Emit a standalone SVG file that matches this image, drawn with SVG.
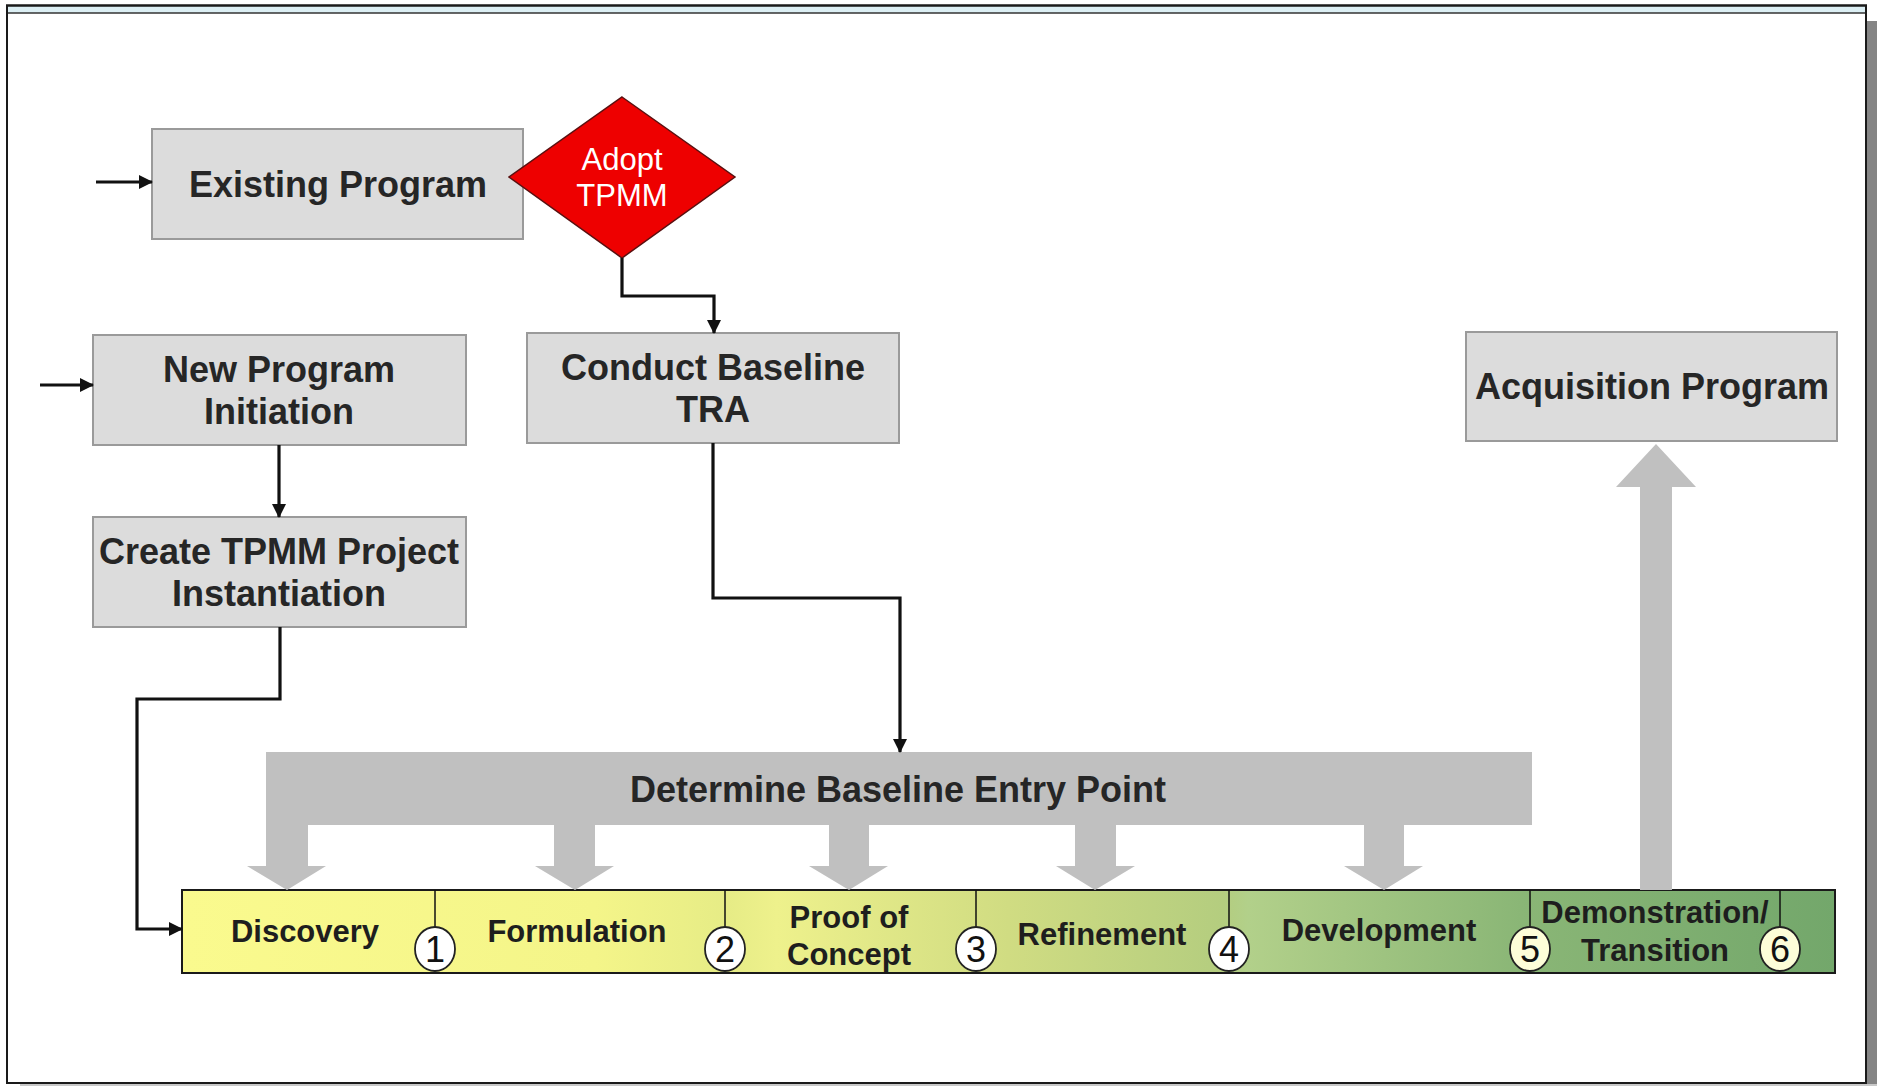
<svg xmlns="http://www.w3.org/2000/svg" width="1877" height="1086" viewBox="0 0 1877 1086">
  <style>
    .box { fill: #dcdcdc; stroke: #9a9a9a; stroke-width: 2; }
    .lbl { font-family: "Liberation Sans", Arial, sans-serif; font-weight: bold; font-size: 36px; fill: #262626; text-anchor: middle; }
    .phase { font-family: "Liberation Sans", Arial, sans-serif; font-weight: bold; font-size: 31px; fill: #1e1e1e; text-anchor: middle; }
    .num { font-family: "Liberation Sans", Arial, sans-serif; font-size: 36px; fill: #111; text-anchor: middle; }
    .conn { fill: none; stroke: #111; stroke-width: 3.2; }
    .big { fill: #c0c0c0; }
    .divider { stroke: #111; stroke-width: 1.5; }
    .gate { stroke: #222; stroke-width: 1.8; }
  </style>
  <defs>
    <marker id="arrow" markerUnits="userSpaceOnUse" markerWidth="16" markerHeight="16" refX="13" refY="7" orient="auto">
      <path d="M0,0 L14,7 L0,14 Z" fill="#111"/>
    </marker>
    <linearGradient id="phaseFill" x1="182" y1="0" x2="1835" y2="0" gradientUnits="userSpaceOnUse">
      <stop offset="0" stop-color="#fafa8e"/>
      <stop offset="0.25" stop-color="#f4f589"/>
      <stop offset="0.33" stop-color="#e6ec86"/>
      <stop offset="0.36" stop-color="#eef18c"/>
      <stop offset="0.5" stop-color="#d0dc82"/>
      <stop offset="0.63" stop-color="#b4cd7f"/>
      <stop offset="0.645" stop-color="#b2d08a"/>
      <stop offset="0.81" stop-color="#8ab676"/>
      <stop offset="1" stop-color="#73a76b"/>
    </linearGradient>
  </defs>

  <!-- page frame with shadow -->
  <rect x="1867" y="21" width="10" height="1065" fill="#858585"/>
  <rect x="20" y="1084" width="1857" height="2" fill="#c8c8c8"/>
  <rect x="0" y="0" width="1866" height="1084" fill="#ffffff"/>
  <rect x="7" y="6" width="1859" height="7" fill="#dceff4"/>
  <line x1="6" y1="5.5" x2="1867" y2="5.5" stroke="#1a1a1a" stroke-width="2"/>
  <line x1="6" y1="13" x2="1867" y2="13" stroke="#333" stroke-width="1.5"/>
  <rect x="7" y="5.5" width="1859" height="1077.5" fill="none" stroke="#1a1a1a" stroke-width="2"/>

  <!-- phase bar -->
  <g id="phase-bar">
    <rect x="182" y="890" width="1653" height="83" fill="url(#phaseFill)" stroke="#1a1a1a" stroke-width="2"/>
    <line class="divider" x1="435" y1="890" x2="435" y2="928"/>
    <line class="divider" x1="725" y1="890" x2="725" y2="928"/>
    <line class="divider" x1="976" y1="890" x2="976" y2="928"/>
    <line class="divider" x1="1229" y1="890" x2="1229" y2="928"/>
    <line class="divider" x1="1530" y1="890" x2="1530" y2="928"/>
    <line class="divider" x1="1780" y1="890" x2="1780" y2="928"/>
    <text class="phase" x="305" y="942">Discovery</text>
    <text class="phase" x="577" y="942">Formulation</text>
    <text class="phase" x="849" y="928">Proof of</text>
    <text class="phase" x="849" y="965">Concept</text>
    <text class="phase" x="1102" y="945">Refinement</text>
    <text class="phase" x="1379" y="941">Development</text>
    <text class="phase" x="1655" y="923">Demonstration/</text>
    <text class="phase" x="1655" y="961">Transition</text>
  </g>

  <!-- stage gates -->
  <g id="gate-1"><ellipse class="gate" cx="435" cy="949" rx="20" ry="22" fill="#ffffff"/><text class="num" x="435" y="962">1</text></g>
  <g id="gate-2"><ellipse class="gate" cx="725" cy="949" rx="20" ry="22" fill="#ffffff"/><text class="num" x="725" y="962">2</text></g>
  <g id="gate-3"><ellipse class="gate" cx="976" cy="949" rx="20" ry="22" fill="#ffffff"/><text class="num" x="976" y="962">3</text></g>
  <g id="gate-4"><ellipse class="gate" cx="1229" cy="949" rx="20" ry="22" fill="#ffffff"/><text class="num" x="1229" y="962">4</text></g>
  <g id="gate-5"><ellipse class="gate" cx="1530" cy="949" rx="20" ry="22" fill="#fdfdd8"/><text class="num" x="1530" y="962">5</text></g>
  <g id="gate-6"><ellipse class="gate" cx="1780" cy="949" rx="20" ry="22" fill="#fdfdd8"/><text class="num" x="1780" y="962">6</text></g>

  <!-- determine baseline entry point: bar with block arrows down to phases -->
  <g id="determine-entry">
    <rect class="big" x="266" y="752" width="1266" height="73"/>
    <path class="big" d="M266,825 H308 V866 H326 L287,890 L247,866 H266 Z"/>
    <path class="big" d="M554,825 H595 V866 H614 L575,890 L535,866 H554 Z"/>
    <path class="big" d="M829,825 H869 V866 H888 L849,890 L809,866 H829 Z"/>
    <path class="big" d="M1075,825 H1116 V866 H1135 L1095,890 L1056,866 H1075 Z"/>
    <path class="big" d="M1364,825 H1404 V866 H1423 L1384,890 L1344,866 H1364 Z"/>
    <text class="lbl" x="898" y="802">Determine Baseline Entry Point</text>
  </g>

  <!-- transition up to acquisition -->
  <g id="transition-arrow">
    <path class="big" d="M1640,890 V487 H1616 L1656,444 L1696,487 H1672 V890 Z"/>
  </g>

  <!-- process nodes -->
  <g id="existing-program">
    <rect class="box" x="152" y="129" width="371" height="110"/>
    <text class="lbl" x="338" y="197">Existing Program</text>
  </g>

  <g id="adopt-tpmm">
    <polygon points="622,97 735,177 622,258 509,177" fill="#ee0000" stroke="#5a1010" stroke-width="1.5"/>
    <text x="622" y="170" font-family="Liberation Sans, Arial, sans-serif" font-size="31" fill="#ffffff" text-anchor="middle">Adopt</text>
    <text x="622" y="206" font-family="Liberation Sans, Arial, sans-serif" font-size="31" fill="#ffffff" text-anchor="middle">TPMM</text>
  </g>

  <g id="new-program">
    <rect class="box" x="93" y="335" width="373" height="110"/>
    <text class="lbl" x="279" y="382">New Program</text>
    <text class="lbl" x="279" y="424">Initiation</text>
  </g>

  <g id="create-instantiation">
    <rect class="box" x="93" y="517" width="373" height="110"/>
    <text class="lbl" x="279" y="564">Create TPMM Project</text>
    <text class="lbl" x="279" y="606">Instantiation</text>
  </g>

  <g id="conduct-tra">
    <rect class="box" x="527" y="333" width="372" height="110"/>
    <text class="lbl" x="713" y="380">Conduct Baseline</text>
    <text class="lbl" x="713" y="422">TRA</text>
  </g>

  <g id="acquisition-program">
    <rect class="box" x="1466" y="332" width="371" height="109"/>
    <text class="lbl" x="1652" y="399">Acquisition Program</text>
  </g>

  <!-- connectors -->
  <g id="connectors">
    <path class="conn" d="M96,182 H152" marker-end="url(#arrow)"/>
    <path class="conn" d="M40,385 H93" marker-end="url(#arrow)"/>
    <path class="conn" d="M279,445 V517" stroke-width="2" marker-end="url(#arrow)"/>
    <path class="conn" d="M622,258 V296 H714 V333" marker-end="url(#arrow)"/>
    <path class="conn" d="M713,443 V598 H900 V752" marker-end="url(#arrow)"/>
    <path class="conn" d="M280,627 V699 H137 V929 H182" marker-end="url(#arrow)"/>
  </g>
</svg>
